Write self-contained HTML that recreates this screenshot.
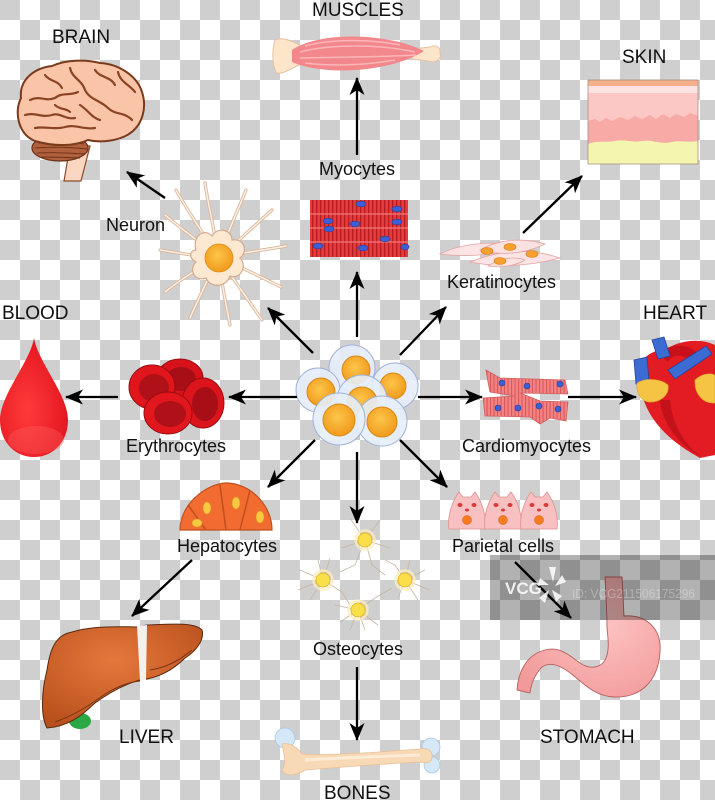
<!DOCTYPE html>
<html><head><meta charset="utf-8">
<style>
html,body{margin:0;padding:0;background:#fff;}
svg{display:block;}
text{font-family:"Liberation Sans",Arial,sans-serif;fill:#111;}
</style></head>
<body>
<svg width="715" height="800" viewBox="0 0 715 800" xmlns="http://www.w3.org/2000/svg">
<defs>
<pattern id="ck" width="40" height="40" patternUnits="userSpaceOnUse">
<rect width="40" height="40" fill="#fff"/>
<rect width="20" height="20" fill="#cfcfcf"/>
<rect x="20" y="20" width="20" height="20" fill="#cfcfcf"/>
</pattern>
<pattern id="myo" width="4" height="10" patternUnits="userSpaceOnUse">
<rect width="4" height="10" fill="#e63b3d"/><rect width="1.3" height="10" fill="#b41d22"/>
</pattern>
<pattern id="car" width="3.5" height="10" patternUnits="userSpaceOnUse">
<rect width="3.5" height="10" fill="#f38282"/><rect width="1.1" height="10" fill="#d85a5c"/>
</pattern>
<marker id="ah" viewBox="-18 -9 20 18" refX="0" refY="0" markerWidth="20" markerHeight="18" markerUnits="userSpaceOnUse" orient="auto">
<path d="M1,0 L-17,-7.5 L-12,0 L-17,7.5 Z" fill="#000"/>
</marker>
<radialGradient id="liv" cx="0.45" cy="0.35" r="0.7">
<stop offset="0" stop-color="#e5783c"/><stop offset="1" stop-color="#b8501c"/>
</radialGradient>
<radialGradient id="drop" cx="0.4" cy="0.6" r="0.7">
<stop offset="0" stop-color="#ff3a3a"/><stop offset="1" stop-color="#e0121c"/>
</radialGradient>
<radialGradient id="nuc" cx="0.45" cy="0.4" r="0.6">
<stop offset="0" stop-color="#fcc64a"/><stop offset="1" stop-color="#f19a1c"/>
</radialGradient>
<radialGradient id="stom" cx="0.6" cy="0.4" r="0.7">
<stop offset="0" stop-color="#fcc4c2"/><stop offset="1" stop-color="#f29a9a"/>
</radialGradient>
</defs>

<rect width="715" height="800" fill="url(#ck)"/>

<!-- ===== BRAIN ===== -->
<path d="M70,146 L90,146 L81,181 L64,181 Z" fill="#fbd6c0" stroke="#8a4a2a" stroke-width="1.2"/>
<ellipse cx="60" cy="148" rx="28" ry="13" fill="#b0603c" stroke="#6b3018" stroke-width="1.2"/>
<g stroke="#6b3018" stroke-width="0.9" fill="none">
<path d="M38,143 Q60,140 84,144"/><path d="M35,148 Q60,146 87,149"/><path d="M37,153 Q60,152 85,154"/><path d="M42,157 Q60,157 80,158"/>
</g>
<path d="M35,141 C18,134 14,112 21,98 C19,80 34,68 52,66 C65,60 85,59 100,63 C119,64 137,76 142,92 C147,107 143,125 129,134 C118,141 100,143 88,140 C75,146 55,147 35,141 Z" fill="#f9c4a8" stroke="#7a3b1c" stroke-width="2"/>
<g stroke="#8a4424" stroke-width="2.2" fill="none" stroke-linecap="round">
<path d="M30,100 C40,95 45,102 55,98 C62,92 70,96 78,92"/>
<path d="M45,75 C50,82 58,80 62,88"/>
<path d="M70,68 C72,78 82,80 85,90 C90,100 100,100 108,108 C115,115 125,112 132,120"/>
<path d="M95,70 C100,78 110,76 115,85"/>
<path d="M118,72 C120,82 130,85 135,92"/>
<path d="M25,115 C35,112 42,118 52,115 C60,112 65,120 75,118"/>
<path d="M35,128 C45,126 55,130 65,127 C75,124 85,130 95,128"/>
<path d="M80,105 C88,110 92,118 100,120"/>
<path d="M55,105 C60,110 66,108 70,112"/>
</g>

<!-- ===== MUSCLES ===== -->
<path d="M275,40 C283,36 293,42 302,46 L302,64 C292,67 284,75 276,73 C272,62 272,50 275,40 Z" fill="#fce5c8" stroke="#e2c2a2" stroke-width="1"/>
<path d="M412,49 L430,47 C436,44 441,48 440,53 C442,57 438,62 432,62 C426,60 418,60 412,59 Z" fill="#fce5c8" stroke="#e2c2a2" stroke-width="1"/>
<path d="M292,50 C322,30 392,34 424,51 C395,70 330,78 292,62 Z" fill="#f2878c"/>
<g stroke="#fbb6b8" stroke-width="1.5" fill="none">
<path d="M300,52 C330,44 380,44 415,52"/><path d="M300,58 C335,57 385,57 416,55"/><path d="M305,46 C330,39 370,39 400,45"/><path d="M305,63 C330,66 360,66 395,60"/>
</g>

<!-- ===== SKIN ===== -->
<rect x="588" y="80" width="110" height="84" fill="#fcc8c6"/>
<rect x="588" y="80" width="110" height="6" fill="#f5b08a"/>
<rect x="588" y="86" width="110" height="7" fill="#fde3e4"/>
<path d="M588,121 L595,119 L600,122 L606,118 L612,121 L620,117 L628,120 L635,116 L642,119 L650,115 L656,119 L663,114 L670,118 L676,114 L684,117 L690,113 L698,116 L698,164 L588,164 Z" fill="#f7aaa6"/>
<path d="M588,144 C598,140 605,143 615,141 C625,139 632,143 642,141 C652,139 660,145 672,142 C682,140 690,143 698,141 L698,164 L588,164 Z" fill="#f4f6b0"/>
<rect x="588" y="80" width="110" height="84" fill="none" stroke="#a89080" stroke-width="0.8"/>

<!-- ===== NEURON ===== -->
<g fill="none" stroke-linecap="round">
<g stroke="#d9b59c" stroke-width="3.2">
<path d="M218,258 C205,235 190,215 176,190"/><path d="M218,258 C215,230 208,205 205,183"/>
<path d="M218,258 C228,232 238,210 246,190"/><path d="M218,258 C240,240 255,225 272,210"/>
<path d="M218,258 C245,252 265,250 286,246"/><path d="M218,258 C245,268 262,278 281,287"/>
<path d="M218,258 C235,280 248,300 262,320"/><path d="M218,258 C222,285 226,305 230,325"/>
<path d="M218,258 C205,285 198,300 190,318"/><path d="M218,258 C195,270 180,280 165,292"/>
<path d="M218,258 C195,256 178,253 160,250"/><path d="M218,258 C198,240 180,228 165,215"/>
</g>
<g stroke="#fdf0e2" stroke-width="1.5">
<path d="M218,258 C205,235 190,215 176,190"/><path d="M218,258 C215,230 208,205 205,183"/>
<path d="M218,258 C228,232 238,210 246,190"/><path d="M218,258 C240,240 255,225 272,210"/>
<path d="M218,258 C245,252 265,250 286,246"/><path d="M218,258 C245,268 262,278 281,287"/>
<path d="M218,258 C235,280 248,300 262,320"/><path d="M218,258 C222,285 226,305 230,325"/>
<path d="M218,258 C205,285 198,300 190,318"/><path d="M218,258 C195,270 180,280 165,292"/>
<path d="M218,258 C195,256 178,253 160,250"/><path d="M218,258 C198,240 180,228 165,215"/>
</g>
</g>
<path d="M196,250 C192,235 205,228 212,236 C218,226 232,230 232,240 C245,238 248,252 240,258 C248,266 240,280 230,276 C226,288 210,288 206,278 C195,282 188,270 196,262 C188,258 190,250 196,250 Z" fill="#fde9d2" stroke="#d4aa8c" stroke-width="1.2"/>
<circle cx="219" cy="258" r="14" fill="url(#nuc)" stroke="#e08a18" stroke-width="0.8"/>

<!-- ===== MYOCYTES ===== -->
<rect x="310" y="200" width="98" height="57" fill="url(#myo)"/>
<g stroke="#f27a7a" stroke-width="1.2"><line x1="310" y1="214" x2="408" y2="214"/><line x1="310" y1="228" x2="408" y2="228"/><line x1="310" y1="242" x2="408" y2="242"/></g>
<g fill="#3d5fd6" stroke="#2a3f9a" stroke-width="0.6">
<ellipse cx="361" cy="204" rx="5" ry="2.8"/><ellipse cx="397" cy="209" rx="5" ry="2.8"/><ellipse cx="328" cy="221" rx="5" ry="2.8"/>
<ellipse cx="355" cy="224" rx="5" ry="2.8"/><ellipse cx="397" cy="222" rx="5" ry="2.8"/><ellipse cx="329" cy="229" rx="5" ry="2.8"/>
<ellipse cx="385" cy="239" rx="5" ry="2.8"/><ellipse cx="318" cy="246" rx="5" ry="2.8"/><ellipse cx="363" cy="248" rx="5" ry="2.8"/>
<ellipse cx="405" cy="247" rx="4" ry="2.8"/>
</g>

<!-- ===== KERATINOCYTES ===== -->
<g fill="#fde2e2" stroke="#e6a3a3" stroke-width="0.8" fill-opacity="0.9">
<path d="M440,254 C460,244 490,240 520,246 C500,254 470,258 440,254 Z"/>
<path d="M470,262 C495,252 525,246 560,258 C530,266 500,268 470,262 Z"/>
<path d="M480,250 C500,238 525,238 545,244 C525,254 500,256 480,250 Z"/>
<path d="M488,266 C500,258 515,256 525,260 C515,266 500,268 488,266 Z"/>
</g>
<g fill="#f5a030" stroke="#d47a10" stroke-width="0.6">
<ellipse cx="487" cy="251" rx="6" ry="3.5"/><ellipse cx="510" cy="247" rx="6" ry="3.5"/>
<ellipse cx="532" cy="254" rx="6" ry="3.5"/><ellipse cx="500" cy="261" rx="6" ry="3.5"/>
</g>

<!-- ===== STEM CELLS ===== -->
<g stroke="#9fb2d6" stroke-width="1">
<circle cx="352" cy="368" r="23" fill="#e6eefa" fill-opacity="0.92"/>
<circle cx="356" cy="370" r="14" fill="url(#nuc)" stroke="#d98a14"/>
<circle cx="395" cy="386" r="23" fill="#e6eefa" fill-opacity="0.92"/>
<circle cx="393" cy="386" r="13" fill="url(#nuc)" stroke="#d98a14"/>
<circle cx="318" cy="390" r="22" fill="#e6eefa" fill-opacity="0.92"/>
<circle cx="321" cy="392" r="14" fill="url(#nuc)" stroke="#d98a14"/>
<circle cx="362" cy="400" r="25" fill="#e6eefa" fill-opacity="0.9"/>
<circle cx="362" cy="402" r="15" fill="url(#nuc)" stroke="#d98a14"/>
<circle cx="382" cy="421" r="25" fill="#e6eefa" fill-opacity="0.9"/>
<circle cx="382" cy="422" r="15" fill="url(#nuc)" stroke="#d98a14"/>
<circle cx="339" cy="419" r="26" fill="#e6eefa" fill-opacity="0.9"/>
<circle cx="339" cy="420" r="16" fill="url(#nuc)" stroke="#d98a14"/>
</g>

<!-- ===== ERYTHROCYTES ===== -->
<g>
<ellipse cx="180" cy="378" rx="23" ry="19" fill="#d8121a" stroke="#9a0c12" stroke-width="1"/>
<ellipse cx="181" cy="379" rx="15" ry="12" fill="#a80e16"/>
<ellipse cx="152" cy="387" rx="23" ry="22" fill="#e0161c" stroke="#9a0c12" stroke-width="1"/>
<ellipse cx="154" cy="388" rx="15" ry="14" fill="#b01018"/>
<ellipse cx="203" cy="403" rx="21" ry="25" fill="#dc141b" stroke="#9a0c12" stroke-width="1"/>
<ellipse cx="205" cy="404" rx="13" ry="17" fill="#a80e16"/>
<ellipse cx="168" cy="413" rx="24" ry="21" fill="#e2171d" stroke="#9a0c12" stroke-width="1"/>
<ellipse cx="170" cy="414" rx="16" ry="13" fill="#b01018"/>
</g>

<!-- ===== BLOOD DROP ===== -->
<path d="M34,338 C30,362 0,395 0,420 C0,442 15,457 34,457 C53,457 68,442 68,420 C68,395 38,362 34,338 Z" fill="url(#drop)"/>
<ellipse cx="36" cy="440" rx="28" ry="14" fill="#ff6060" opacity="0.35"/>

<!-- ===== CARDIOMYOCYTES ===== -->
<g stroke="#d06060" stroke-width="0.8">
<path d="M486,370 L500,378 L565,380 L568,394 L520,393 L540,401 L568,402 L566,421 L550,418 L540,424 L530,417 L485,416 L483,398 L515,396 L490,392 L488,382 Z" fill="url(#car)"/>
</g>
<g fill="#3d5fd6" stroke="#2a3f9a" stroke-width="0.6">
<circle cx="502" cy="383" r="3"/><circle cx="527" cy="386" r="3"/><circle cx="560" cy="384" r="3"/>
<circle cx="498" cy="408" r="3"/><circle cx="518" cy="408" r="3"/><circle cx="539" cy="406" r="3"/><circle cx="558" cy="409" r="3"/>
</g>

<!-- ===== HEART ===== -->
<path d="M642,362 C634,398 652,432 700,458 L715,455 L715,345 C700,338 682,340 668,348 C656,350 646,354 642,362 Z" fill="#e31b23"/>
<path d="M660,400 C662,425 680,445 700,456 C680,440 672,420 670,400 Z" fill="#c4121a"/>
<path d="M660,355 C665,344 686,342 696,352 L689,360 C681,353 671,355 668,362 Z" fill="#c8101a"/>
<path d="M652,340 L664,337 L670,356 L658,359 Z" fill="#3d6bd4" stroke="#24449a" stroke-width="0.8"/>
<path d="M634,360 L647,357 L649,382 L636,384 Z" fill="#3d6bd4" stroke="#24449a" stroke-width="0.8"/>
<path d="M668,370 L706,346 L712,354 L675,379 Z" fill="#3d6bd4" stroke="#24449a" stroke-width="0.8"/>
<path d="M637,383 C645,378 660,378 668,385 C670,395 660,403 648,402 C640,400 636,392 637,383 Z" fill="#f6c445" stroke="#d9a020" stroke-width="0.6"/>
<path d="M695,380 C703,372 715,373 715,376 L715,403 C704,404 694,395 695,380 Z" fill="#f6c445" stroke="#d9a020" stroke-width="0.6"/>

<!-- ===== HEPATOCYTES ===== -->
<path d="M180,530 C180,505 205,484 226,483 C250,483 272,505 272,530 Z" fill="#f26b30" stroke="#c0501c" stroke-width="1.2"/>
<g stroke="#c0501c" stroke-width="1.5" fill="none">
<path d="M188,505 L206,530"/><path d="M220,485 L226,530"/><path d="M250,490 L240,530"/>
</g>
<g fill="#f7c842" stroke="#d89820" stroke-width="0.6">
<ellipse cx="207" cy="508" rx="4" ry="6"/><ellipse cx="236" cy="503" rx="4" ry="6"/>
<ellipse cx="197" cy="523" rx="5" ry="4"/><ellipse cx="260" cy="517" rx="4" ry="6"/>
</g>

<!-- ===== LIVER ===== -->
<ellipse cx="80" cy="721" rx="11" ry="8" fill="#2aa845"/>
<path d="M47,728 C40,715 42,690 47,670 C50,650 55,635 72,632 C85,628 100,626 137,627 L147,625 C170,624 195,622 202,630 C205,640 195,652 185,658 C175,668 160,678 140,680 C125,684 110,692 95,703 C85,712 72,726 47,728 Z" fill="url(#liv)" stroke="#5a2a10" stroke-width="1"/>
<path d="M137,626 L147,625 L146,680 L140,681 Z" fill="#f4f0ec"/>
<path d="M150,670 C165,668 180,660 192,650" stroke="#7a3414" stroke-width="1" fill="none"/>
<path d="M55,722 C75,715 90,705 105,694 C118,686 130,682 140,681" stroke="#7a3414" stroke-width="1" fill="none"/>

<!-- ===== OSTEOCYTES ===== -->
<g stroke="#c8b4a0" stroke-width="0.8" fill="none">
<path d="M365,540 L350,518 M365,540 L380,520 M365,540 L390,548 M365,540 L342,548 M365,540 L372,565 L385,575 M365,540 L355,565 L340,572"/>
<path d="M323,580 L300,570 M323,580 L330,558 M323,580 L342,592 L350,605 M323,580 L310,600 M323,580 L298,590 M323,580 L318,560"/>
<path d="M405,580 L425,570 M405,580 L430,590 M405,580 L395,565 L385,560 M405,580 L398,598 M405,580 L418,600 M405,580 L410,560"/>
<path d="M358,610 L340,622 M358,610 L378,625 M358,610 L365,630 M358,610 L375,598 L392,588 M358,610 L350,630 M358,610 L335,605"/>
</g>
<g fill="#f9e04a" stroke="#e8b830" stroke-width="1">
<circle cx="365" cy="540" r="7"/><circle cx="323" cy="580" r="7"/><circle cx="405" cy="580" r="7"/><circle cx="358" cy="610" r="7"/>
</g>
<g fill="none" stroke="#fbeec0" stroke-width="2.5" opacity="0.8">
<circle cx="365" cy="540" r="9.5"/><circle cx="323" cy="580" r="9.5"/><circle cx="405" cy="580" r="9.5"/><circle cx="358" cy="610" r="9.5"/>
</g>

<!-- ===== BONES ===== -->
<circle cx="285" cy="738" r="10" fill="#d4e8f8" stroke="#a8c8e0" stroke-width="0.8"/>
<circle cx="431" cy="747" r="9" fill="#d4e8f8" stroke="#a8c8e0" stroke-width="0.8"/>
<circle cx="432" cy="765" r="8" fill="#d4e8f8" stroke="#a8c8e0" stroke-width="0.8"/>
<path d="M282,744 C290,742 298,748 302,754 C325,756 380,752 420,749 C428,747 433,752 432,757 C432,762 428,764 420,762 C380,764 330,768 305,770 C296,776 285,777 282,770 C287,764 284,754 282,744 Z" fill="#f8d9b6" stroke="#e8c098" stroke-width="0.8"/>
<path d="M305,760 C340,758 390,756 420,755" stroke="#fdebd6" stroke-width="3" fill="none"/>

<!-- ===== PARIETAL CELLS ===== -->
<g fill="#f8c0c0" stroke="#e09090" stroke-width="0.8">
<path d="M449,529 C447,515 453,500 459,492 L463,497 L471,497 L475,492 C481,500 487,515 485,529 Z"/>
<path d="M485,529 C483,515 489,500 495,492 L499,497 L507,497 L511,492 C517,500 523,515 521,529 Z"/>
<path d="M521,529 C519,515 525,500 531,492 L535,497 L543,497 L547,492 C553,500 559,515 557,529 Z"/>
</g>
<g fill="#d83a3a">
<ellipse cx="460" cy="505" rx="2.5" ry="2"/><ellipse cx="474" cy="505" rx="2.5" ry="2"/><ellipse cx="467" cy="510" rx="2" ry="1.5"/>
<ellipse cx="496" cy="505" rx="2.5" ry="2"/><ellipse cx="510" cy="505" rx="2.5" ry="2"/><ellipse cx="503" cy="510" rx="2" ry="1.5"/>
<ellipse cx="532" cy="505" rx="2.5" ry="2"/><ellipse cx="546" cy="505" rx="2.5" ry="2"/><ellipse cx="539" cy="510" rx="2" ry="1.5"/>
</g>
<g fill="#f57c1f" stroke="#d85a10" stroke-width="0.5">
<circle cx="467" cy="520" r="4.5"/><circle cx="503" cy="520" r="4.5"/><circle cx="539" cy="520" r="4.5"/>
</g>

<!-- ===== STOMACH ===== -->
<path d="M605,577 L622,577 L624,616 C645,614 662,628 660,652 C658,682 640,698 614,697 C596,696 586,686 574,676 C562,666 550,660 541,668 C534,676 531,685 530,693 L517,690 C518,674 525,655 545,650 C560,646 570,656 580,663 C590,670 602,668 606,658 C611,645 606,632 607,620 Z" fill="url(#stom)" stroke="#b56060" stroke-width="0.9"/>

<!-- ===== ARROWS ===== -->
<g stroke="#000" stroke-width="2.3" fill="none" marker-end="url(#ah)">
<line x1="357" y1="337" x2="357" y2="272"/>
<line x1="357" y1="155" x2="357" y2="78"/>
<line x1="313" y1="353" x2="268" y2="308"/>
<line x1="400" y1="355" x2="446" y2="307"/>
<line x1="523" y1="233" x2="582" y2="176"/>
<line x1="165" y1="198" x2="127" y2="172"/>
<line x1="297" y1="397" x2="229" y2="397"/>
<line x1="118" y1="397" x2="66" y2="397"/>
<line x1="418" y1="397" x2="482" y2="397"/>
<line x1="568" y1="397" x2="636" y2="397"/>
<line x1="315" y1="440" x2="268" y2="487"/>
<line x1="357" y1="452" x2="357" y2="523"/>
<line x1="400" y1="440" x2="447" y2="487"/>
<line x1="192" y1="560" x2="132" y2="616"/>
<line x1="357" y1="667" x2="357" y2="740"/>
<line x1="515" y1="562" x2="571" y2="618"/>
</g>

<!-- ===== WATERMARK ===== -->
<rect x="490" y="555" width="225" height="65" fill="#000" fill-opacity="0.3"/>
<text x="505" y="594" style="font-size:17px;font-weight:bold;fill:#fff;fill-opacity:0.85;">VCG</text>
<g fill="#fff" fill-opacity="0.85">
<path d="M549,567 L556,567 L553,582 Z"/><path d="M562,575 L566,582 L555,586 Z"/>
<path d="M562,596 L556,602 L552,590 Z"/><path d="M545,603 L539,598 L549,590 Z"/>
<path d="M538,585 L540,578 L549,585 Z"/>
</g>
<text x="572" y="598" textLength="123" lengthAdjust="spacingAndGlyphs" style="font-size:13px;fill:#fff;fill-opacity:0.3;">ID: VCG211506175296</text>

<!-- ===== LABELS ===== -->
<g style="font-size:19px;">
<text x="52" y="43">BRAIN</text>
<text x="312" y="16">MUSCLES</text>
<text x="622" y="63">SKIN</text>
<text x="2" y="319">BLOOD</text>
<text x="643" y="319">HEART</text>
<text x="119" y="743">LIVER</text>
<text x="540" y="743">STOMACH</text>
<text x="324" y="799">BONES</text>
</g>
<g style="font-size:18px;">
<text x="319" y="175">Myocytes</text>
<text x="106" y="231">Neuron</text>
<text x="447" y="288">Keratinocytes</text>
<text x="126" y="452">Erythrocytes</text>
<text x="462" y="452">Cardiomyocytes</text>
<text x="177" y="552">Hepatocytes</text>
<text x="452" y="552">Parietal cells</text>
<text x="313" y="655">Osteocytes</text>
</g>
</svg>
</body></html>
